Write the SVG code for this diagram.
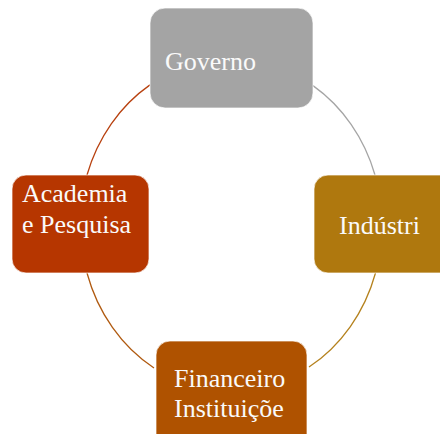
<svg xmlns="http://www.w3.org/2000/svg" width="440" height="434" viewBox="0 0 440 434">
<style>
.box{stroke:#ffffff;stroke-width:1;stroke-opacity:0.7}
.lbl{font-family:"Liberation Serif","Times New Roman",serif;font-size:26px;fill:#fafafa}
.arc{fill:none;stroke-width:1.3}
</style>
<rect width="440" height="434" fill="#ffffff"/>
<g id="connectors">
<path class="arc" d="M150,84.9 A151,166 0 0 0 87,175" stroke="#B8410F"/>
<path class="arc" d="M313,85.6 A151,166 0 0 1 375,175" stroke="#A5A5A5"/>
<path class="arc" d="M375.5,273 A151,166 0 0 1 309,367" stroke="#B5821E"/>
<path class="arc" d="M154,368 A151,166 0 0 1 87,273" stroke="#B05A10"/>
</g>
<g id="governo">
<rect class="box" x="150" y="8" width="163" height="100" rx="15" fill="#A4A4A4"/>
<text class="lbl" x="165" y="70">Governo</text>
</g>
<g id="academia">
<rect class="box" x="12" y="175" width="137" height="98" rx="14" fill="#B63600"/>
<text class="lbl" x="22" y="202">Academia</text>
<text class="lbl" x="22" y="233">e Pesquisa</text>
</g>
<g id="industria">
<rect class="box" x="314" y="175" width="150" height="98" rx="14" fill="#AF780E"/>
<text class="lbl" x="339" y="234">Indústri</text>
</g>
<g id="financeiro">
<rect class="box" x="156" y="341" width="151" height="110" rx="14" fill="#AF5200"/>
<text class="lbl" x="174" y="387">Financeiro</text>
<text class="lbl" x="174" y="417">Instituiçõe</text>
</g>
</svg>
